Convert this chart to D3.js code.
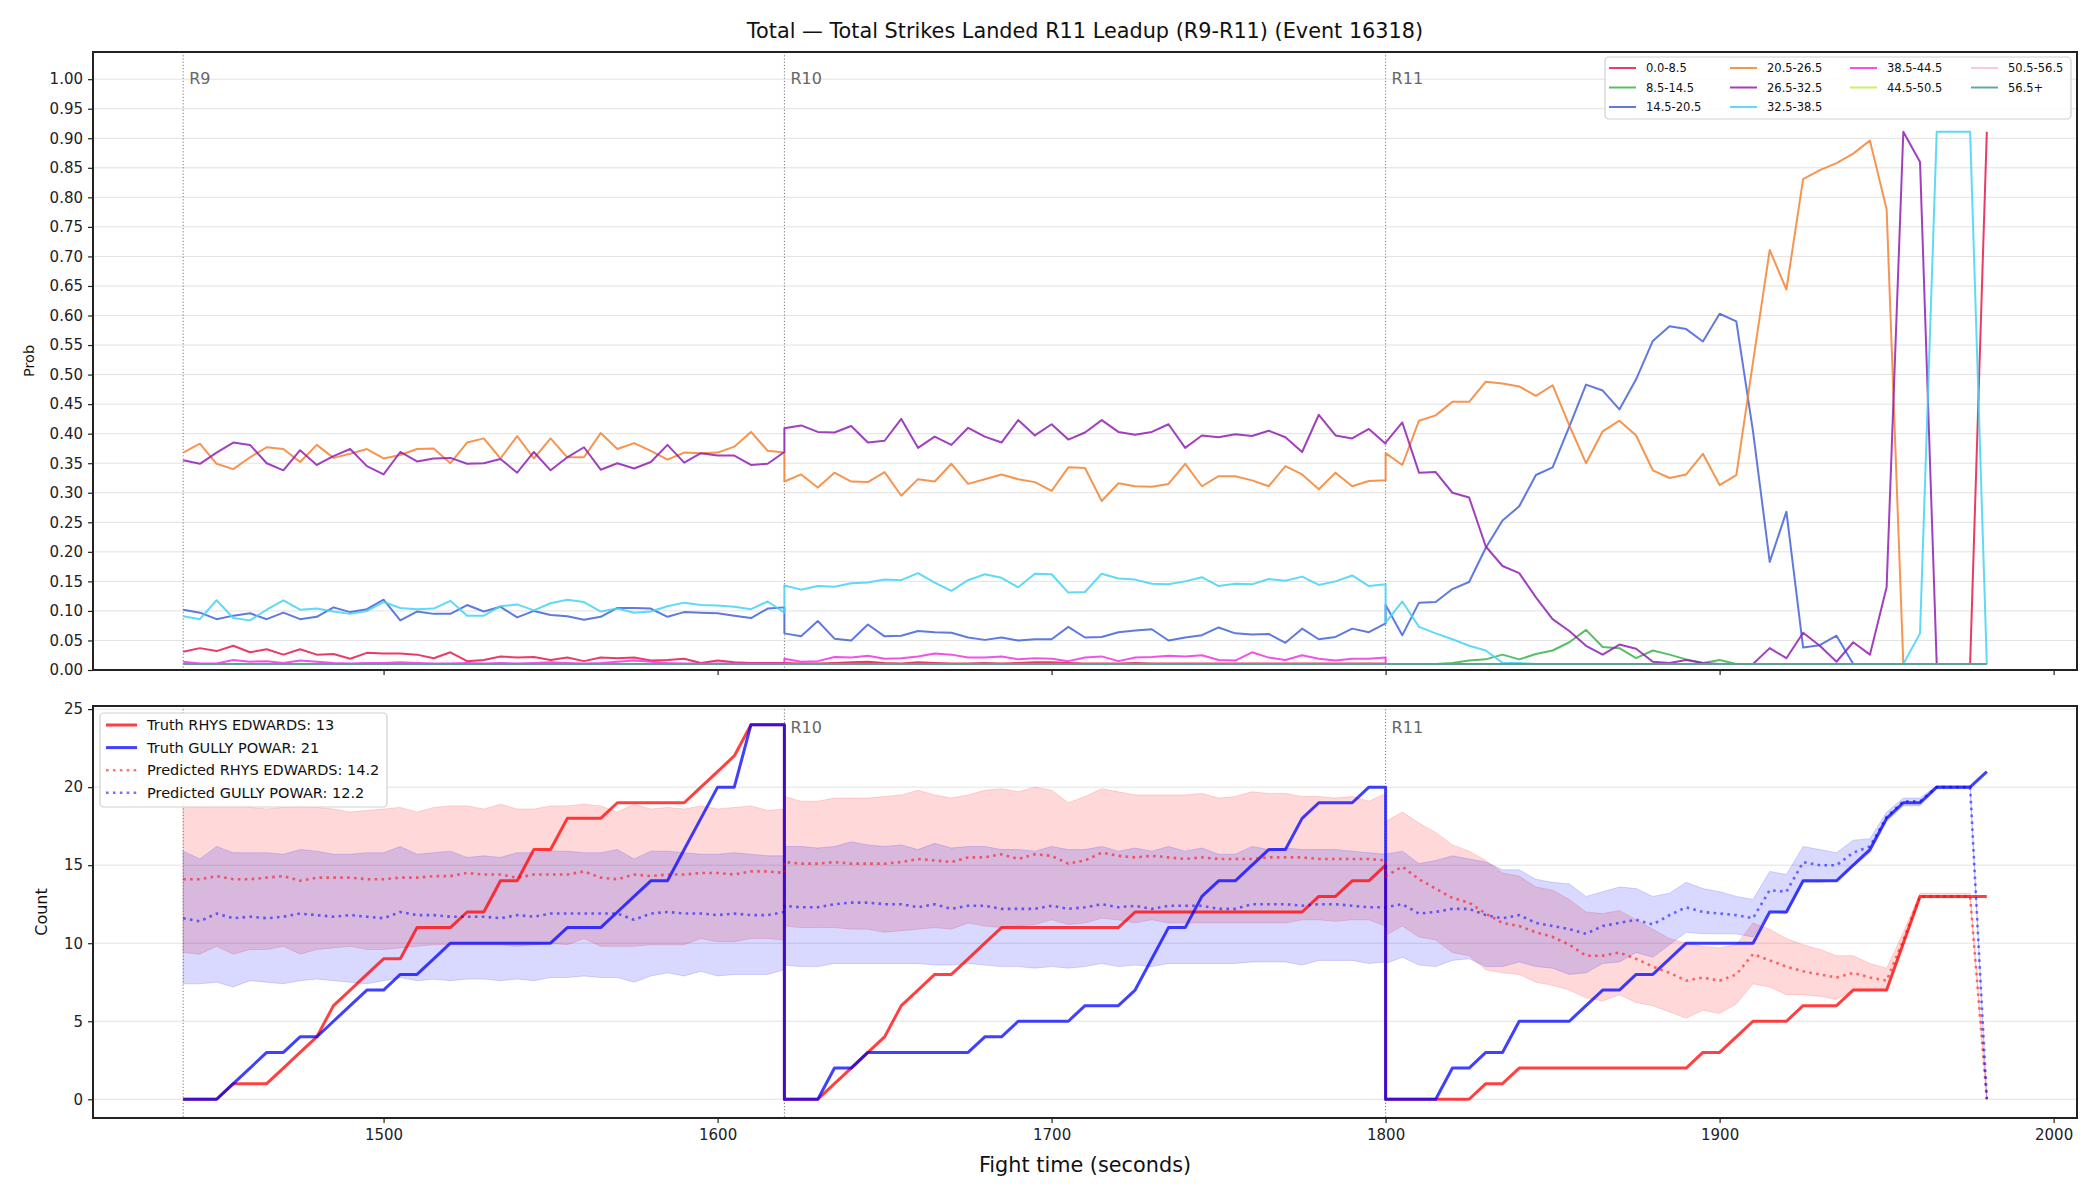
<!DOCTYPE html>
<html>
<head>
<meta charset="utf-8">
<script src="https://cdn.jsdelivr.net/npm/d3@7"></script>
<style>
  body { margin: 0; background: #fff; }
  svg { display: block; font-family: "DejaVu Sans", sans-serif; }
</style>
</head>
<body>
<svg id="chart" width="2100" height="1200"></svg>
<script>
// ---- data ----
const title = "Total \u2014 Total Strikes Landed R11 Leadup (R9-R11) (Event 16318)";
const roundStarts = [1440, 1620, 1800];
const roundLabels = ["R9", "R10", "R11"];
// each round sampled every 5 s from its start to start+180 (37 samples)
const times = roundStarts.flatMap(s => d3.range(37).map(k => s + 5 * k));

const timeTicks = [1500, 1600, 1700, 1800, 1900, 2000];
const probTicks = [0, 0.05, 0.1, 0.15, 0.2, 0.25, 0.3, 0.35, 0.4, 0.45, 0.5, 0.55, 0.6, 0.65, 0.7, 0.75, 0.8, 0.85, 0.9, 0.95, 1.0];
const countTicks = [0, 5, 10, 15, 20, 25];

const binLabels = ["0.0-8.5", "8.5-14.5", "14.5-20.5", "20.5-26.5", "26.5-32.5", "32.5-38.5", "38.5-44.5", "44.5-50.5", "50.5-56.5", "56.5+"];
const binColors = ["#e6194b", "#3cb44b", "#4363d8", "#f58231", "#911eb4", "#42d4f4", "#f032e6", "#bfef45", "#fabed4", "#469990"];

const bin0_8 = [
  0.031,0.037,0.032,0.041,0.030,0.035,0.026,0.035,0.026,0.027,0.019,0.029,0.028,0.028,0.026,0.020,0.030,0.015,0.017,0.023,0.021,0.022,0.017,0.021,0.015,0.021,0.020,0.021,0.016,0.017,0.019,0.012,0.016,0.013,0.012,0.012,0.012,
  0.012,0.011,0.011,0.012,0.013,0.014,0.012,0.011,0.013,0.012,0.011,0.011,0.012,0.011,0.012,0.013,0.013,0.012,0.011,0.011,0.011,0.012,0.011,0.011,0.011,0.011,0.011,0.011,0.011,0.011,0.011,0.011,0.011,0.011,0.011,0.011,0.011,
  0.01,0.01,0.01,0.01,0.01,0.01,0.01,0.01,0.01,0.01,0.01,0.01,0.01,0.01,0.01,0.01,0.01,0.01,0.01,0.01,0.01,0.01,0.01,0.01,0.01,0.01,0.01,0.01,0.01,0.01,0.01,0.01,0.01,0.01,0.01,0.01,0.911
];
const bin8_14 = [
  0.01,0.01,0.01,0.01,0.01,0.01,0.01,0.01,0.01,0.01,0.01,0.01,0.01,0.01,0.01,0.01,0.01,0.01,0.01,0.01,0.01,0.01,0.01,0.01,0.01,0.01,0.01,0.01,0.01,0.01,0.01,0.01,0.01,0.01,0.01,0.01,0.01,
  0.01,0.01,0.01,0.01,0.01,0.01,0.01,0.01,0.01,0.01,0.01,0.01,0.01,0.01,0.01,0.01,0.01,0.01,0.01,0.01,0.01,0.01,0.01,0.01,0.01,0.01,0.01,0.01,0.01,0.01,0.01,0.01,0.01,0.01,0.01,0.01,0.01,
  0.01,0.01,0.01,0.01,0.012,0.016,0.018,0.026,0.018,0.027,0.033,0.047,0.068,0.039,0.037,0.020,0.033,0.026,0.018,0.012,0.017,0.01,0.01,0.01,0.01,0.01,0.01,0.01,0.01,0.01,0.01,0.01,0.01,0.01,0.01,0.01,0.01
];
const bin14_20 = [
  0.102,0.097,0.086,0.092,0.096,0.086,0.097,0.086,0.090,0.106,0.098,0.103,0.119,0.084,0.099,0.095,0.095,0.110,0.099,0.107,0.089,0.100,0.093,0.091,0.085,0.090,0.105,0.105,0.104,0.090,0.098,0.097,0.096,0.092,0.088,0.104,0.106,
  0.062,0.057,0.083,0.053,0.050,0.077,0.057,0.058,0.066,0.064,0.063,0.055,0.051,0.055,0.050,0.052,0.052,0.073,0.055,0.056,0.064,0.067,0.069,0.050,0.055,0.059,0.072,0.062,0.060,0.061,0.046,0.070,0.052,0.056,0.070,0.064,0.079,
  0.110,0.059,0.114,0.115,0.137,0.149,0.207,0.253,0.277,0.330,0.343,0.412,0.483,0.473,0.441,0.492,0.557,0.582,0.577,0.556,0.603,0.590,0.404,0.183,0.268,0.038,0.042,0.058,0.01,0.01,0.01,0.01,0.01,0.01,0.01,0.01,0.01
];
const bin20_26 = [
  0.368,0.383,0.349,0.340,0.360,0.377,0.374,0.352,0.381,0.359,0.366,0.374,0.358,0.364,0.374,0.375,0.350,0.385,0.392,0.358,0.396,0.358,0.392,0.360,0.360,0.401,0.374,0.384,0.371,0.356,0.368,0.367,0.368,0.378,0.403,0.371,0.368,
  0.319,0.331,0.309,0.334,0.319,0.318,0.335,0.295,0.323,0.319,0.349,0.315,0.323,0.331,0.323,0.318,0.303,0.343,0.342,0.286,0.316,0.311,0.310,0.315,0.349,0.311,0.328,0.328,0.321,0.311,0.345,0.331,0.306,0.334,0.311,0.320,0.321,
  0.367,0.347,0.422,0.431,0.454,0.454,0.488,0.485,0.480,0.464,0.482,0.414,0.350,0.404,0.422,0.397,0.338,0.325,0.331,0.366,0.313,0.330,0.521,0.711,0.644,0.831,0.846,0.858,0.874,0.896,0.780,0.01,0.01,0.01,0.01,0.01,0.01
];
const bin26_32 = [
  0.355,0.349,0.368,0.385,0.381,0.350,0.338,0.372,0.347,0.362,0.374,0.345,0.331,0.369,0.353,0.358,0.359,0.349,0.350,0.357,0.334,0.369,0.338,0.360,0.377,0.339,0.350,0.341,0.352,0.381,0.351,0.367,0.363,0.363,0.347,0.349,0.369,
  0.409,0.414,0.403,0.402,0.413,0.385,0.388,0.425,0.376,0.395,0.381,0.410,0.395,0.385,0.423,0.397,0.416,0.390,0.402,0.423,0.403,0.398,0.403,0.416,0.376,0.397,0.394,0.399,0.396,0.405,0.394,0.369,0.432,0.397,0.392,0.408,0.383,
  0.385,0.419,0.334,0.335,0.300,0.292,0.209,0.176,0.164,0.123,0.086,0.066,0.041,0.026,0.043,0.036,0.014,0.012,0.017,0.012,0.01,0.01,0.01,0.037,0.020,0.063,0.041,0.014,0.047,0.026,0.140,0.911,0.860,0.01,0.01,0.01,0.01
];
const bin32_38 = [
  0.091,0.086,0.118,0.088,0.084,0.102,0.118,0.102,0.104,0.099,0.095,0.100,0.115,0.105,0.103,0.104,0.117,0.092,0.092,0.108,0.111,0.101,0.113,0.119,0.115,0.099,0.104,0.097,0.099,0.108,0.114,0.110,0.109,0.107,0.103,0.116,0.097,
  0.143,0.136,0.142,0.141,0.147,0.148,0.153,0.152,0.164,0.148,0.134,0.152,0.162,0.156,0.140,0.163,0.162,0.131,0.132,0.163,0.155,0.153,0.146,0.145,0.150,0.157,0.142,0.146,0.145,0.154,0.151,0.158,0.144,0.150,0.160,0.142,0.145,
  0.080,0.116,0.073,0.062,0.052,0.041,0.033,0.012,0.012,0.01,0.01,0.01,0.01,0.01,0.01,0.01,0.01,0.01,0.01,0.01,0.01,0.01,0.01,0.01,0.01,0.01,0.01,0.01,0.01,0.01,0.01,0.01,0.062,0.911,0.911,0.911,0.01
];
const bin38_44 = [
  0.014,0.011,0.011,0.017,0.014,0.015,0.012,0.016,0.014,0.012,0.011,0.012,0.012,0.013,0.012,0.011,0.011,0.012,0.011,0.012,0.011,0.012,0.013,0.012,0.011,0.012,0.014,0.016,0.014,0.012,0.011,0.011,0.011,0.011,0.011,0.011,0.011,
  0.019,0.014,0.015,0.022,0.021,0.024,0.019,0.020,0.023,0.028,0.026,0.021,0.021,0.023,0.018,0.020,0.019,0.015,0.021,0.023,0.015,0.021,0.022,0.024,0.023,0.025,0.017,0.016,0.030,0.021,0.017,0.025,0.019,0.016,0.019,0.019,0.021,
  0.01,0.01,0.01,0.01,0.01,0.01,0.01,0.01,0.01,0.01,0.01,0.01,0.01,0.01,0.01,0.01,0.01,0.01,0.01,0.01,0.01,0.01,0.01,0.01,0.01,0.01,0.01,0.01,0.01,0.01,0.01,0.01,0.01,0.01,0.01,0.01,0.01
];
const bin44_50 = [
  0.01,0.01,0.01,0.01,0.01,0.01,0.01,0.01,0.01,0.01,0.01,0.01,0.01,0.01,0.01,0.01,0.01,0.01,0.01,0.01,0.01,0.01,0.01,0.01,0.01,0.01,0.01,0.01,0.01,0.01,0.01,0.01,0.01,0.01,0.01,0.01,0.01,
  0.01,0.01,0.01,0.01,0.01,0.01,0.01,0.01,0.01,0.01,0.01,0.01,0.01,0.01,0.01,0.01,0.01,0.01,0.01,0.01,0.01,0.01,0.01,0.01,0.01,0.01,0.01,0.01,0.01,0.01,0.01,0.01,0.01,0.01,0.01,0.01,0.01,
  0.01,0.01,0.01,0.01,0.01,0.01,0.01,0.01,0.01,0.01,0.01,0.01,0.01,0.01,0.01,0.01,0.01,0.01,0.01,0.01,0.01,0.01,0.01,0.01,0.01,0.01,0.01,0.01,0.01,0.01,0.01,0.01,0.01,0.01,0.01,0.01,0.01
];
const bin50_56 = [
  0.01,0.01,0.01,0.01,0.01,0.01,0.01,0.01,0.01,0.01,0.01,0.01,0.01,0.01,0.01,0.01,0.01,0.01,0.01,0.01,0.01,0.01,0.01,0.01,0.01,0.01,0.01,0.01,0.01,0.01,0.01,0.01,0.01,0.01,0.01,0.01,0.01,
  0.01,0.01,0.01,0.01,0.01,0.01,0.01,0.01,0.01,0.01,0.01,0.01,0.01,0.01,0.01,0.01,0.01,0.01,0.01,0.01,0.01,0.01,0.01,0.01,0.01,0.01,0.01,0.01,0.01,0.01,0.01,0.01,0.01,0.01,0.01,0.01,0.01,
  0.01,0.01,0.01,0.01,0.01,0.01,0.01,0.01,0.01,0.01,0.01,0.01,0.01,0.01,0.01,0.01,0.01,0.01,0.01,0.01,0.01,0.01,0.01,0.01,0.01,0.01,0.01,0.01,0.01,0.01,0.01,0.01,0.01,0.01,0.01,0.01,0.01
];
const bin56up = [
  0.01,0.01,0.01,0.01,0.01,0.01,0.01,0.01,0.01,0.01,0.01,0.01,0.01,0.01,0.01,0.01,0.01,0.01,0.01,0.01,0.01,0.01,0.01,0.01,0.01,0.01,0.01,0.01,0.01,0.01,0.01,0.01,0.01,0.01,0.01,0.01,0.01,
  0.01,0.01,0.01,0.01,0.01,0.01,0.01,0.01,0.01,0.01,0.01,0.01,0.01,0.01,0.01,0.01,0.01,0.01,0.01,0.01,0.01,0.01,0.01,0.01,0.01,0.01,0.01,0.01,0.01,0.01,0.01,0.01,0.01,0.01,0.01,0.01,0.01,
  0.01,0.01,0.01,0.01,0.01,0.01,0.01,0.01,0.01,0.01,0.01,0.01,0.01,0.01,0.01,0.01,0.01,0.01,0.01,0.01,0.01,0.01,0.01,0.01,0.01,0.01,0.01,0.01,0.01,0.01,0.01,0.01,0.01,0.01,0.01,0.01,0.01
];
const binSeries = [bin0_8, bin8_14, bin14_20, bin20_26, bin26_32, bin32_38, bin38_44, bin44_50, bin50_56, bin56up];

// bottom panel: cumulative strikes landed
const truthRed = [
  0,0,0,1,1,1,2,3,4,6,7,8,9,9,11,11,11,12,12,14,14,16,16,18,18,18,19,19,19,19,19,20,21,22,24,24,24,
  0,0,0,1,2,3,4,6,7,8,8,9,10,11,11,11,11,11,11,11,11,12,12,12,12,12,12,12,12,12,12,12,13,13,14,14,15,
  0,0,0,0,0,0,1,1,2,2,2,2,2,2,2,2,2,2,2,3,3,4,5,5,5,6,6,6,7,7,7,10,13,13,13,13,13
];
const truthBlue = [
  0,0,0,1,2,3,3,4,4,5,6,7,7,8,8,9,10,10,10,10,10,10,10,11,11,11,12,13,14,14,16,18,20,20,24,24,24,
  0,0,0,2,2,3,3,3,3,3,3,3,4,4,5,5,5,5,6,6,6,7,9,11,11,13,14,14,15,16,16,18,19,19,19,20,20,
  0,0,0,0,2,2,3,3,5,5,5,5,6,7,7,8,8,9,10,10,10,10,10,12,12,14,14,14,15,16,18,19,19,20,20,20,21
];
const predRed = [
  14.1,14.1,14.3,14.1,14.1,14.2,14.3,14.0,14.2,14.2,14.2,14.1,14.1,14.2,14.2,14.3,14.3,14.5,14.4,14.4,14.2,14.4,14.4,14.4,14.6,14.2,14.1,14.4,14.3,14.4,14.4,14.5,14.5,14.4,14.6,14.6,14.5,
  15.2,15.1,15.1,15.2,15.1,15.1,15.1,15.2,15.4,15.3,15.2,15.5,15.5,15.7,15.4,15.7,15.6,15.1,15.3,15.8,15.6,15.5,15.6,15.5,15.4,15.5,15.4,15.4,15.4,15.5,15.5,15.5,15.4,15.4,15.4,15.4,15.3,
  14.3,14.9,14.1,13.5,12.9,12.6,11.9,11.3,11.1,10.7,10.4,9.9,9.2,9.2,9.4,9.0,8.5,8.1,7.6,7.8,7.6,8.0,9.3,8.9,8.5,8.2,8.0,7.8,8.1,7.8,7.6,10.2,13.0,13.0,13.0,13.0,0
];
const predBlue = [
  11.6,11.4,11.9,11.6,11.7,11.6,11.7,11.9,11.8,11.7,11.8,11.7,11.6,12.0,11.8,11.8,11.7,11.7,11.7,11.6,11.8,11.7,11.9,11.9,11.9,11.9,11.9,11.5,11.9,12.0,11.9,11.9,11.8,11.9,11.8,11.8,12.0,
  12.4,12.3,12.3,12.5,12.6,12.6,12.5,12.5,12.3,12.5,12.2,12.4,12.4,12.2,12.2,12.2,12.4,12.2,12.3,12.5,12.3,12.4,12.2,12.4,12.4,12.4,12.2,12.2,12.5,12.5,12.5,12.4,12.5,12.5,12.4,12.3,12.3,
  12.3,12.5,11.9,12.0,12.2,12.2,11.8,11.6,11.8,11.3,11.1,10.9,10.6,11.1,11.3,11.5,11.2,11.8,12.3,12.0,11.9,11.8,11.6,13.4,13.3,15.2,15.0,15.0,15.8,16.2,18.1,19.1,19.1,20.0,20.0,20.0,0
];
const redHi = [
  18.9,19.0,18.8,18.9,18.7,18.6,18.7,18.8,18.7,18.6,18.4,18.5,18.6,18.7,18.4,18.7,18.8,18.8,18.6,18.9,18.6,18.6,18.8,18.8,18.9,18.8,18.4,18.9,18.6,18.7,18.6,18.8,18.6,18.7,18.8,18.5,18.6,
  19.4,19.1,19.1,19.3,19.3,19.3,19.4,19.5,19.8,19.5,19.3,19.5,19.8,19.9,19.7,20.0,19.8,19.0,19.4,19.9,19.7,19.5,19.5,19.5,19.5,19.6,19.3,19.4,19.7,19.6,19.6,19.4,19.4,19.3,19.4,19.1,19.6,
  17.8,18.4,17.7,17.1,16.3,15.9,15.3,14.5,14.3,13.6,13.4,12.8,12.0,11.9,12.1,11.5,10.9,10.3,10.0,9.8,9.7,9.9,11.3,10.9,10.3,9.9,9.6,9.2,9.2,8.7,8.4,10.7,13.2,13.2,13.2,13.2,0
];
const redLo = [
  9.4,9.3,9.8,9.3,9.6,9.6,9.8,9.3,9.6,9.7,9.8,9.6,9.6,9.7,9.8,9.9,9.9,9.9,9.9,9.9,9.8,9.9,10.0,9.9,10.3,9.8,9.8,9.8,9.9,9.9,9.9,10.3,10.1,10.1,10.3,10.3,10.2,
  11.1,11.0,11.0,11.0,10.9,10.9,10.7,10.8,10.9,11.0,10.9,11.3,11.1,11.0,11.1,11.2,11.5,11.2,11.3,11.6,11.5,11.3,11.5,11.3,11.3,11.3,11.3,11.3,11.3,11.3,11.3,11.5,11.5,11.4,11.5,11.5,11.1,
  10.5,11.1,10.4,10.2,9.4,9.2,8.3,8.1,8.0,7.5,7.3,7.0,6.5,6.3,6.7,6.2,6.0,5.6,5.2,5.7,5.5,6.1,7.4,7.2,6.7,6.7,6.6,6.4,7.0,7.0,7.0,9.8,12.9,12.9,12.9,12.9,0
];
const blueHi = [
  15.9,15.4,16.2,15.8,15.8,15.8,15.7,16.0,15.9,15.7,15.7,15.8,15.8,16.2,15.7,15.8,15.9,15.5,15.6,15.5,15.8,15.8,15.9,15.9,15.8,15.8,16.0,15.4,15.9,15.9,15.8,15.7,15.7,15.8,15.7,15.6,15.6,
  16.2,16.2,16.1,16.2,16.5,16.3,16.2,16.3,16.0,16.4,16.1,16.2,16.2,16.0,16.0,15.9,16.2,16.0,16.0,16.2,15.9,16.1,15.9,16.2,15.9,16.1,15.7,15.7,16.2,16.0,16.1,16.0,16.0,16.0,15.9,15.8,15.7,
  15.7,15.9,15.1,15.3,15.6,15.4,15.2,14.7,14.7,14.1,13.9,13.8,13.0,13.3,13.6,13.5,13.0,13.2,13.9,13.5,13.3,13.0,12.8,14.6,14.4,16.2,16.0,15.8,16.6,16.7,18.4,19.3,19.3,20.1,20.1,20.1,0
];
const blueLo = [
  7.4,7.4,7.5,7.2,7.6,7.5,7.4,7.6,7.7,7.6,7.5,7.4,7.6,7.8,7.6,7.7,7.6,7.7,7.7,7.6,7.7,7.6,7.8,7.8,7.9,7.8,7.8,7.5,7.9,8.1,7.9,8.2,7.9,8.0,8.0,8.0,8.3,
  8.6,8.5,8.5,8.7,8.7,8.7,8.7,8.7,8.7,8.6,8.6,8.7,8.6,8.5,8.5,8.4,8.5,8.4,8.5,8.7,8.5,8.6,8.5,8.7,8.7,8.7,8.7,8.7,8.8,8.8,8.8,8.6,8.9,8.9,8.9,8.7,8.8,
  8.7,9.1,8.6,8.5,8.9,9.0,8.5,8.5,8.8,8.5,8.4,8.0,8.1,8.7,8.8,9.4,9.1,9.9,10.7,10.6,10.6,10.6,10.4,12.1,11.9,13.9,13.9,14.0,14.9,15.8,17.8,18.8,18.8,19.9,19.9,19.9,0
];

// ---- layout ----
const svg = d3.select("#chart");
const W = 2100, H = 1200;
const left = 93, right = 2077;
const topBox = { y0: 52, y1: 670 };
const botBox = { y0: 706, y1: 1118 };

const x = d3.scaleLinear().domain([1413, 2007]).range([left, right]);
const yProb = d3.scaleLinear().domain([0, 1.046]).range([topBox.y1, topBox.y0]);
const yCount = d3.scaleLinear().domain([-1.2, 25.2]).range([botBox.y1, botBox.y0]);

svg.append("rect").attr("width", W).attr("height", H).attr("fill", "#fff");

svg.append("text")
  .attr("x", (left + right) / 2).attr("y", 38)
  .attr("text-anchor", "middle")
  .style("font-size", "20.8px").attr("fill", "#111")
  .text(title);

const idx = d3.range(times.length);

function grid(g, y, ticks) {
  g.selectAll(".grid").data(ticks).join("line")
    .attr("class", "grid")
    .attr("x1", left).attr("x2", right)
    .attr("y1", d => y(d)).attr("y2", d => y(d))
    .attr("stroke", "#e2e2e2").attr("stroke-width", 1);
}

function axes(g, y, yTicks, yFmt, box, showX) {
  const ya = g.append("g").attr("transform", `translate(${left},0)`)
    .call(d3.axisLeft(y).tickValues(yTicks).tickFormat(yFmt).tickSize(5).tickPadding(5));
  const xa = g.append("g").attr("transform", `translate(0,${box.y1})`)
    .call(d3.axisBottom(x).tickValues(timeTicks).tickFormat(showX ? d3.format("d") : "").tickSize(5).tickPadding(6));
  [ya, xa].forEach(a => {
    a.select(".domain").remove();
    a.selectAll("line").attr("stroke", "#222").attr("stroke-width", 1.2);
    a.selectAll("text").style("font-size", "15px").style("font-family", "DejaVu Sans").attr("fill", "#222");
  });
}

function roundLines(g, box, labelOffset, skip) {
  g.selectAll(".rline").data(roundStarts).join("line")
    .attr("class", "rline")
    .attr("x1", d => x(d)).attr("x2", d => x(d))
    .attr("y1", box.y0).attr("y2", box.y1)
    .attr("stroke", "#777").attr("stroke-width", 1)
    .attr("stroke-dasharray", "1.2,2");
  g.selectAll(".rlabel").data(roundStarts.map((s, i) => ({ s, t: roundLabels[i] })).filter(d => !skip.includes(d.t)))
    .join("text")
    .attr("class", "rlabel")
    .attr("x", d => x(d.s) + 6).attr("y", box.y0 + labelOffset)
    .style("font-size", "16px").attr("fill", "#666")
    .text(d => d.t);
}

function frame(g, box) {
  g.append("rect")
    .attr("x", left).attr("y", box.y0)
    .attr("width", right - left).attr("height", box.y1 - box.y0)
    .attr("fill", "none").attr("stroke", "#222").attr("stroke-width", 2);
}

// ---- top panel: bin probabilities ----
const gTop = svg.append("g");
grid(gTop, yProb, probTicks);
roundLines(gTop, topBox, 32, []);

const probLine = vals => d3.line()
  .defined(i => vals[i] != null)
  .x(i => x(times[i]))
  .y(i => yProb(vals[i]))(idx);

gTop.selectAll(".bin").data(binSeries).join("path")
  .attr("class", "bin")
  .attr("d", d => probLine(d))
  .attr("fill", "none")
  .attr("stroke", (d, i) => binColors[i])
  .attr("stroke-opacity", 0.85)
  .attr("stroke-width", 2)
  .attr("stroke-linejoin", "round");

axes(gTop, yProb, probTicks, d3.format(".2f"), topBox, false);

gTop.append("text")
  .attr("transform", `translate(29,${(topBox.y0 + topBox.y1) / 2}) rotate(-90)`)
  .attr("text-anchor", "middle").attr("dominant-baseline", "central")
  .style("font-size", "14.5px").attr("fill", "#111")
  .text("Prob");

// top legend (4 columns, column-major)
const legTop = gTop.append("g");
legTop.append("rect")
  .attr("x", 1605).attr("y", 57).attr("width", 466).attr("height", 62)
  .attr("rx", 4).attr("fill", "#fff").attr("fill-opacity", 0.85)
  .attr("stroke", "#d0d0d0").attr("stroke-width", 1.2);
const colSizes = [3, 3, 2, 2];
const colX = [1609, 1730, 1850, 1971];
let k = 0;
colSizes.forEach((n, c) => {
  for (let r = 0; r < n; r++, k++) {
    const yy = 68 + r * 19.5;
    legTop.append("line")
      .attr("x1", colX[c]).attr("x2", colX[c] + 27)
      .attr("y1", yy).attr("y2", yy)
      .attr("stroke", binColors[k]).attr("stroke-opacity", 0.85).attr("stroke-width", 2);
    legTop.append("text")
      .attr("x", colX[c] + 37).attr("y", yy)
      .attr("dominant-baseline", "central")
      .style("font-size", "11.5px").attr("fill", "#111")
      .text(binLabels[k]);
  }
});
frame(gTop, topBox);

// ---- bottom panel: counts ----
const gBot = svg.append("g");
grid(gBot, yCount, countTicks);

const band = (lo, hi) => d3.area()
  .x(i => x(times[i]))
  .y0(i => yCount(lo[i]))
  .y1(i => yCount(hi[i]))(idx);
const countLine = vals => d3.line()
  .x(i => x(times[i]))
  .y(i => yCount(vals[i]))(idx);

gBot.append("path").attr("d", band(redLo, redHi))
  .attr("fill", "red").attr("fill-opacity", 0.15)
  .attr("stroke", "red").attr("stroke-opacity", 0.15);
gBot.append("path").attr("d", band(blueLo, blueHi))
  .attr("fill", "blue").attr("fill-opacity", 0.15)
  .attr("stroke", "blue").attr("stroke-opacity", 0.15);

roundLines(gBot, botBox, 27, ["R9"]);

const countSeries = [
  { vals: truthRed, color: "red", op: 0.75, w: 3, dash: null, label: "Truth RHYS EDWARDS: 13" },
  { vals: truthBlue, color: "blue", op: 0.75, w: 3, dash: null, label: "Truth GULLY POWAR: 21" },
  { vals: predRed, color: "red", op: 0.55, w: 2.6, dash: "2.6,4.3", label: "Predicted RHYS EDWARDS: 14.2" },
  { vals: predBlue, color: "blue", op: 0.55, w: 2.6, dash: "2.6,4.3", label: "Predicted GULLY POWAR: 12.2" }
];
gBot.selectAll(".cnt").data(countSeries).join("path")
  .attr("class", "cnt")
  .attr("d", d => countLine(d.vals))
  .attr("fill", "none")
  .attr("stroke", d => d.color)
  .attr("stroke-opacity", d => d.op)
  .attr("stroke-width", d => d.w)
  .attr("stroke-dasharray", d => d.dash)
  .attr("stroke-linejoin", "round");

axes(gBot, yCount, countTicks, d3.format("d"), botBox, true);

gBot.append("text")
  .attr("transform", `translate(41,${(botBox.y0 + botBox.y1) / 2}) rotate(-90)`)
  .attr("text-anchor", "middle").attr("dominant-baseline", "central")
  .style("font-size", "16px").attr("fill", "#111")
  .text("Count");

gBot.append("text")
  .attr("x", (left + right) / 2).attr("y", 1172)
  .attr("text-anchor", "middle")
  .style("font-size", "20.8px").attr("fill", "#111")
  .text("Fight time (seconds)");

// bottom legend
const legBot = gBot.append("g");
legBot.append("rect")
  .attr("x", 100).attr("y", 713).attr("width", 287).attr("height", 94)
  .attr("rx", 4).attr("fill", "#fff").attr("fill-opacity", 0.9)
  .attr("stroke", "#d0d0d0").attr("stroke-width", 1.2);
countSeries.forEach((d, i) => {
  const yy = 725 + i * 22.6;
  legBot.append("line")
    .attr("x1", 106).attr("x2", 137).attr("y1", yy).attr("y2", yy)
    .attr("stroke", d.color).attr("stroke-opacity", d.op)
    .attr("stroke-width", d.w).attr("stroke-dasharray", d.dash);
  legBot.append("text")
    .attr("x", 147).attr("y", yy)
    .attr("dominant-baseline", "central")
    .style("font-size", "14.5px").attr("fill", "#111")
    .text(d.label);
});
frame(gBot, botBox);
</script>
</body>
</html>
